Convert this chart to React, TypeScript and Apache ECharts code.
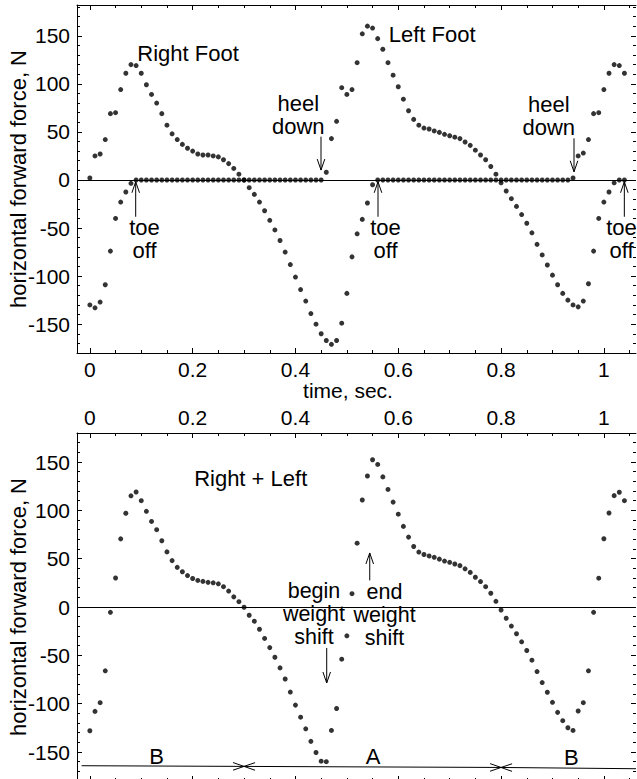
import React, { useEffect, useRef } from 'react';
import * as echarts from 'echarts';

// ---------- data ----------
const time = [
  0, 0.01, 0.02, 0.03, 0.04, 0.05, 0.06, 0.07, 0.08, 0.09,
  0.1, 0.11, 0.12, 0.13, 0.14, 0.15, 0.16, 0.17, 0.18, 0.19,
  0.2, 0.21, 0.22, 0.23, 0.24, 0.25, 0.26, 0.27, 0.28, 0.29,
  0.3, 0.31, 0.32, 0.33, 0.34, 0.35, 0.36, 0.37, 0.38, 0.39,
  0.4, 0.41, 0.42, 0.43, 0.44, 0.45, 0.46, 0.47, 0.48, 0.49,
  0.5, 0.51, 0.52, 0.53, 0.54, 0.55, 0.56, 0.57, 0.58, 0.59,
  0.6, 0.61, 0.62, 0.63, 0.64, 0.65, 0.66, 0.67, 0.68, 0.69,
  0.7, 0.71, 0.72, 0.73, 0.74, 0.75, 0.76, 0.77, 0.78, 0.79,
  0.8, 0.81, 0.82, 0.83, 0.84, 0.85, 0.86, 0.87, 0.88, 0.89,
  0.9, 0.91, 0.92, 0.93, 0.94, 0.95, 0.96, 0.97, 0.98, 0.99,
  1.0, 1.01, 1.02, 1.03, 1.04,
];

const rightFoot = [
  2, 25, 27, 42, 69, 70, 94, 111, 120, 119,
  111, 99, 89, 80, 69, 57, 48, 42, 37, 33,
  30, 27, 26, 26, 25, 24, 21, 17, 12, 6,
  0, -8, -15, -23, -32, -42, -52, -63, -75, -88,
  -101, -114, -126, -139, -150, -160, -167, -171, -167, -149,
  -118, -80, -56, -41, -24, -5, 0, 0, 0, 0,
  0, 0, 0, 0, 0, 0, 0, 0, 0, 0,
  0, 0, 0, 0, 0, 0, 0, 0, 0, 0,
  0, 0, 0, 0, 0, 0, 0, 0, 0, 0,
  0, 0, 0, 0, 2, 25, 28, 42, 69, 70,
  94, 111, 120, 119, 111,
];

const leftFoot = [
  -130, -133, -127, -109, -74, -40, -23, -12.5, -3.5, 0,
  0, 0, 0, 0, 0, 0, 0, 0, 0, 0,
  0, 0, 0, 0, 0, 0, 0, 0, 0, 0,
  0, 0, 0, 0, 0, 0, 0, 0, 0, 0,
  0, 0, 0, 0, 0, 0, 8, 43, 61, 96,
  89, 94, 122, 152, 160, 158, 147, 136, 122, 109,
  97, 84, 72, 63, 57, 54, 53, 51, 49.5, 47.5,
  46, 44.5, 43, 39.5, 36, 31, 26, 21, 14, 6,
  -3, -11.5, -19.5, -27.5, -36, -45, -55, -67, -78, -88.5,
  -99, -109, -118, -125, -130, -132, -126, -108, -74, -40,
  -23, -12.5, -3, 0, 0,
];

const rightPlusLeft = [
  -128, -108, -99, -66, -5.5, 30, 70.5, 97, 115, 119,
  110, 99, 88.5, 80, 68.5, 57, 48, 41, 36.5, 32.5,
  29.5, 27.5, 26.5, 25.5, 25, 24, 21, 16.5, 10.5, 5.5,
  -0.3, -8.5, -14.7, -23, -32.5, -42, -52, -63, -74.5, -88,
  -101.5, -114, -126, -139, -150.5, -159.5, -160, -127.7, -105, -54,
  -29.8, 13.8, 66, 110.7, 135.5, 152.3, 147.5, 134.6, 121.6, 108.5,
  96, 83.4, 72.3, 62.6, 56.8, 54.3, 52.8, 51.4, 49.5, 47.5,
  46.2, 44.5, 42.8, 39.5, 35.8, 30.8, 26.3, 21, 14.2, 5.9,
  -3.1, -11.6, -19.7, -27.7, -36, -45, -55, -66.8, -78.2, -88.2,
  -98.6, -109, -117.6, -124.9, -127.7, -107.6, -99, -66, -5.5, 29.8,
  70.6, 97.2, 115.2, 118.7, 110,
];

// tick values
const xMajor = [0, 0.2, 0.4, 0.6, 0.8, 1];
const xMinor = [
  0, 0.05, 0.1, 0.15, 0.2, 0.25, 0.3, 0.35, 0.4, 0.45, 0.5,
  0.55, 0.6, 0.65, 0.7, 0.75, 0.8, 0.85, 0.9, 0.95, 1, 1.05,
];
const yMajor = [-150, -100, -50, 0, 50, 100, 150];
const yMinor = [
  -170, -160, -150, -140, -130, -120, -110, -100, -90, -80, -70, -60, -50, -40, -30, -20, -10,
  0, 10, 20, 30, 40, 50, 60, 70, 80, 90, 100, 110, 120, 130, 140, 150, 160, 170, 180,
];

// annotations (data coordinates)
const topNoteText = ['Right Foot', 'Left Foot', 'heel\ndown', 'heel\ndown', 'toe\noff', 'toe\noff', 'toe\noff', 'time, sec.'];
const topNoteX = [0.0924, 0.5814, 0.4055, 0.8927, 0.1063, 0.5752, 1.0343, 0.5022];
const topNoteY = [131.7, 150.8, 67.4, 66.5, -61.5, -61.5, -61.5, -218.6];
const topNoteAlign = ['left', 'left', 'center', 'center', 'center', 'center', 'center', 'center'];
const topNoteSize = [22, 22, 22, 22, 22, 22, 22, 21];
const topNoteLine = [22, 22, 23.5, 23.5, 23.5, 23.5, 23.5, 21];

const botNoteText = ['Right + Left', 'begin\nweight\nshift', 'end\nweight\nshift', 'B', 'A', 'B'];
const botNoteX = [0.3129, 0.436, 0.5733, 0.13, 0.551, 0.9367];
const botNoteY = [133.4, -7.65, -8.0, -154.5, -154.5, -155.9];
const botNoteAlign = ['center', 'center', 'center', 'center', 'center', 'center'];
const botNoteSize = [22, 21.5, 21.5, 22, 22, 22];
const botNoteLine = [22, 23, 23, 22, 22, 22];

// arrows: [x1, y1, x2, y2, headAtStart, headAtEnd]
const topArrows = [
  [0.4497, 45, 0.4497, 10.3, 0, 1],
  [0.9419, 43.3, 0.9419, 8.5, 0, 1],
  [0.0892, -38.3, 0.0892, -1.9, 0, 1],
  [0.5606, -38.3, 0.5606, -1.9, 0, 1],
  [1.0398, -38.3, 1.0398, -1.9, 0, 1],
];
const botArrows = [
  [0.4608, -42.4, 0.4608, -78.6, 0, 1],
  [0.5445, 27.5, 0.5445, 55.9, 0, 1],
  [-0.016, -164.2, 0.3, -164.9, 0, 1],
  [0.3, -164.9, 0.8, -166, 1, 1],
  [0.8, -166, 1.0625, -167.3, 1, 0],
];

const X_MIN = -0.025;
const X_MAX = 1.0625;
const TOP_Y = [-180, 182];
const BOT_Y = [-180, 180];
const FONT = '"Liberation Sans", Arial, Helvetica, sans-serif';
const BLACK = '#000';

function xAxisDef(gridIndex: number, position: string, ticks: number[], len: number, showLine: boolean, labels: boolean, margin = 6) {
  return {
    type: 'value', gridIndex, position, min: X_MIN, max: X_MAX,
    splitLine: { show: false },
    axisLine: { show: showLine, onZero: false, lineStyle: { color: BLACK, width: 1 } },
    axisTick: { show: true, inside: true, length: len, customValues: ticks, lineStyle: { color: BLACK, width: 1 } },
    axisLabel: labels
      ? { show: true, customValues: xMajor, fontSize: 21, fontFamily: FONT, color: BLACK, margin }
      : { show: false },
  };
}

function yAxisDef(gridIndex: number, position: string, range: number[], ticks: number[], len: number, showLine: boolean, labels: boolean) {
  const ax: any = {
    type: 'value', gridIndex, position, min: range[0], max: range[1],
    splitLine: { show: false },
    axisLine: { show: showLine, onZero: false, lineStyle: { color: BLACK, width: 1 } },
    axisTick: { show: true, inside: true, length: len, customValues: ticks, lineStyle: { color: BLACK, width: 1 } },
    axisLabel: labels
      ? { show: true, customValues: yMajor, fontSize: 21, fontFamily: FONT, color: BLACK, margin: 7 }
      : { show: false },
  };
  if (labels) {
    ax.name = 'horizontal forward force, N';
    ax.nameLocation = 'middle';
    ax.nameRotate = 90;
    ax.nameGap = 48;
    ax.nameMoveOverlap = false;
    ax.nameTextStyle = { fontSize: 22, fontFamily: FONT, color: BLACK };
  }
  return ax;
}

function arrowSeries(xIdx: number, yIdx: number, arrows: number[][]) {
  const headLen = 11;
  const headHalf = 3.8;
  return {
    type: 'custom', xAxisIndex: xIdx, yAxisIndex: yIdx, silent: true, clip: false, z: 5,
    data: arrows,
    encode: { x: [0, 2], y: [1, 3] },
    renderItem: (params: any, api: any) => {
      const p1 = api.coord([api.value(0), api.value(1)]);
      const p2 = api.coord([api.value(2), api.value(3)]);
      const head = (tip: number[], from: number[]) => {
        const dx = tip[0] - from[0];
        const dy = tip[1] - from[1];
        const l = Math.hypot(dx, dy) || 1;
        const ux = dx / l;
        const uy = dy / l;
        const bx = tip[0] - ux * headLen;
        const by = tip[1] - uy * headLen;
        return {
          type: 'polyline',
          shape: { points: [[bx - uy * headHalf, by + ux * headHalf], [tip[0], tip[1]], [bx + uy * headHalf, by - ux * headHalf]] },
          style: { stroke: BLACK, fill: 'none', lineWidth: 1 },
        };
      };
      const children: any[] = [
        { type: 'line', shape: { x1: p1[0], y1: p1[1], x2: p2[0], y2: p2[1] }, style: { stroke: BLACK, lineWidth: 1 } },
      ];
      if (api.value(5)) children.push(head(p2, p1));
      if (api.value(4)) children.push(head(p1, p2));
      return { type: 'group', children };
    },
  };
}

function textSeries(xIdx: number, yIdx: number, xs: number[], ys: number[], texts: string[], aligns: string[], sizes: number[], lines: number[]) {
  return {
    type: 'custom', xAxisIndex: xIdx, yAxisIndex: yIdx, silent: true, clip: false, z: 6,
    data: xs.map((x, i) => [x, ys[i]]),
    encode: { x: 0, y: 1 },
    renderItem: (params: any, api: any) => {
      const p = api.coord([api.value(0), api.value(1)]);
      const i = params.dataIndex;
      return {
        type: 'text', x: p[0], y: p[1],
        style: {
          text: texts[i], fill: BLACK, fontSize: sizes[i], fontFamily: FONT,
          align: aligns[i], verticalAlign: 'middle', lineHeight: lines[i],
        },
      };
    },
  };
}

const zeroLine = {
  silent: true, symbol: ['none', 'none'], label: { show: false },
  lineStyle: { color: BLACK, width: 1, type: 'solid' },
  emphasis: { disabled: true },
  data: [{ yAxis: 0 }],
};

const dotStyle = { symbol: 'circle', symbolSize: 5, itemStyle: { color: BLACK }, silent: true };

function App() {
  const ref = useRef<HTMLDivElement>(null);
  useEffect(() => {
    document.body.style.margin = '0';
    const chart = echarts.init(ref.current!, null, { renderer: 'svg' });
    const option: any = {
      animation: false,
      backgroundColor: '#fff',
      grid: [
        { left: 77, top: 5, width: 559, height: 348, containLabel: false, outerBoundsMode: 'none' },
        { left: 77, top: 433, width: 559, height: 348, containLabel: false, outerBoundsMode: 'none' },
      ],
      xAxis: [
        xAxisDef(0, 'bottom', xMajor, 5, true, true, 6),
        xAxisDef(0, 'bottom', xMinor, 3, false, false),
        xAxisDef(0, 'top', xMajor, 5, true, false),
        xAxisDef(0, 'top', xMinor, 3, false, false),
        xAxisDef(1, 'top', xMajor, 5, true, true, 5),
        xAxisDef(1, 'top', xMinor, 3, false, false),
        xAxisDef(1, 'bottom', xMajor, 5, true, false),
        xAxisDef(1, 'bottom', xMinor, 3, false, false),
      ],
      yAxis: [
        yAxisDef(0, 'left', TOP_Y, yMajor, 5, true, true),
        yAxisDef(0, 'left', TOP_Y, yMinor, 3, false, false),
        yAxisDef(0, 'right', TOP_Y, yMajor, 5, false, false),
        yAxisDef(0, 'right', TOP_Y, yMinor, 3, false, false),
        yAxisDef(1, 'left', BOT_Y, yMajor, 5, true, true),
        yAxisDef(1, 'left', BOT_Y, yMinor, 3, false, false),
        yAxisDef(1, 'right', BOT_Y, yMajor, 5, false, false),
        yAxisDef(1, 'right', BOT_Y, yMinor, 3, false, false),
      ],
      series: [
        {
          name: 'Right Foot', type: 'scatter', xAxisIndex: 0, yAxisIndex: 0,
          data: time.map((t, i) => [t, rightFoot[i]]),
          ...dotStyle,
          markLine: zeroLine,
        },
        {
          name: 'Left Foot', type: 'scatter', xAxisIndex: 0, yAxisIndex: 0,
          data: time.map((t, i) => [t, leftFoot[i]]),
          ...dotStyle,
        },
        arrowSeries(0, 0, topArrows),
        textSeries(0, 0, topNoteX, topNoteY, topNoteText, topNoteAlign, topNoteSize, topNoteLine),
        {
          name: 'Right + Left', type: 'scatter', xAxisIndex: 4, yAxisIndex: 4,
          data: time.map((t, i) => [t, rightPlusLeft[i]]),
          ...dotStyle,
          markLine: zeroLine,
        },
        arrowSeries(4, 4, botArrows),
        textSeries(4, 4, botNoteX, botNoteY, botNoteText, botNoteAlign, botNoteSize, botNoteLine),
      ],
    };
    chart.setOption(option);
    return () => chart.dispose();
  }, []);
  return (
    <div style={{ width: 637, height: 779, overflow: 'hidden', background: '#fff' }}>
      <div ref={ref} style={{ width: 637, height: 790 }} />
    </div>
  );
}

export default App;
